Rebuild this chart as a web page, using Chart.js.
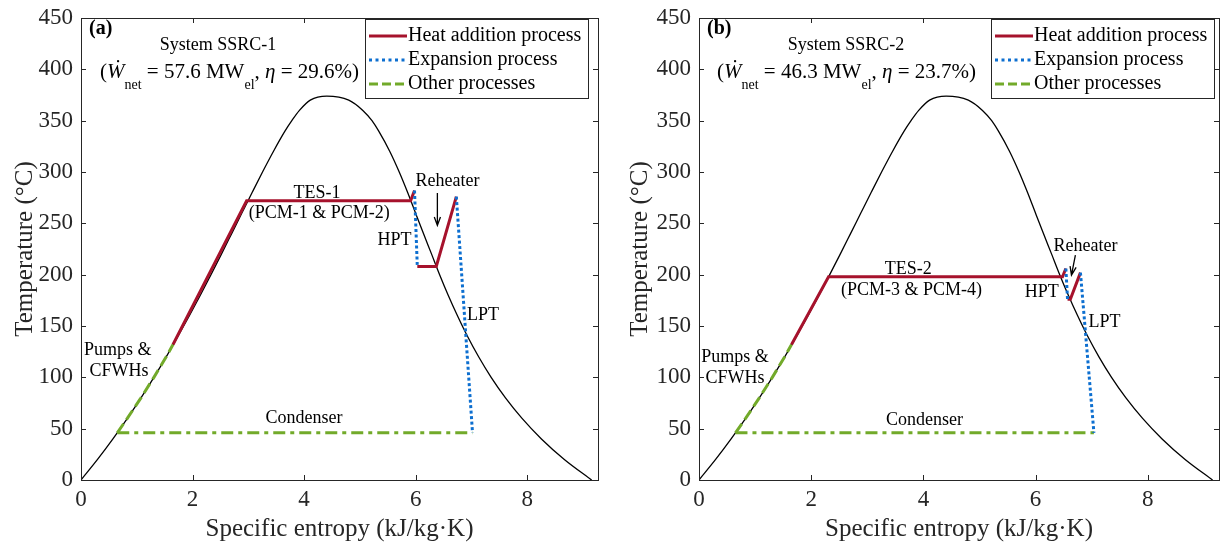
<!DOCTYPE html>
<html>
<head>
<meta charset="utf-8">
<script src="https://cdn.jsdelivr.net/npm/chart.js@4.4.1/dist/chart.umd.min.js"></script>
<style>
  html, body { margin: 0; padding: 0; background: #fff; }
  .panel { position: absolute; top: 0; width: 610px; height: 547px; }
</style>
</head>
<body>
<div class="panel" style="left:0"><canvas id="chartA" width="610" height="547"></canvas></div>
<div class="panel" style="left:610px"><canvas id="chartB" width="610" height="547"></canvas></div>
<script>
// saturation dome of water
const domeS = [0, 0.2965, 0.5724, 0.8313, 1.0756, 1.3072, 1.5279, 1.7392, 1.9427, 2.1392, 2.3305,
    2.5178, 2.7015, 2.8848, 3.0683, 3.2548, 3.4494, 3.6594, 3.7800, 3.9167, 4.1112, 4.4070,
    4.8012, 5.0536, 5.2177, 5.3359, 5.5372, 5.7059, 5.8571, 5.9982, 6.1406, 6.2861, 6.4302,
    6.5840, 6.7502, 6.9293, 7.1296, 7.3542, 7.6111, 7.9082, 8.2556, 8.6661, 9.1556];
const domeT = [0, 20, 40, 60, 80, 100, 120, 140, 160, 180, 200,
    220, 240, 260, 280, 300, 320, 340, 350, 360, 370, 373.95,
    370, 360, 350, 340, 320, 300, 280, 260, 240, 220, 200,
    180, 160, 140, 120, 100, 80, 60, 40, 20, 0];

// tick labels
const sTicks = [0, 2, 4, 6, 8];
const tTicks = [0, 50, 100, 150, 200, 250, 300, 350, 400, 450];

// SSRC-1
const pumpS_A = [0.65, 0.83, 1.075, 1.307, 1.528, 1.65];
const pumpT_A = [46, 60, 80, 100, 120, 132];
const heatS_A = [1.65, 2.97, 5.91, 5.98];
const heatT_A = [132, 272, 272, 282];
const hptS_A = [5.98, 6.03];
const hptT_A = [282, 208];
const reheatS_A = [6.03, 6.37, 6.73];
const reheatT_A = [208, 208, 276];
const lptS_A = [6.73, 7.02];
const lptT_A = [276, 46];
const condS_A = [0.65, 7.02];
const condT_A = [46, 46];

// SSRC-2
const pumpS_B = [0.65, 0.83, 1.075, 1.307, 1.528, 1.65];
const pumpT_B = [46, 60, 80, 100, 120, 132];
const heatS_B = [1.65, 2.31, 6.48, 6.54];
const heatT_B = [132, 198, 198, 206];
const hptS_B = [6.54, 6.57];
const hptT_B = [206, 176];
const reheatS_B = [6.57, 6.62, 6.80];
const reheatT_B = [176, 176, 202];
const lptS_B = [6.80, 7.04];
const lptT_B = [202, 46];
const condS_B = [0.65, 7.04];
const condT_B = [46, 46];

const legendLabels = ["Heat addition process", "Expansion process", "Other processes"];

const RED = "#a6122c";
const BLUE = "#0d6fd0";
const GREEN = "#72aa2a";
const AXIS = "#262626";
const SERIF = "'Liberation Serif', 'Times New Roman', serif";

function pts(xs, ys) {
    return xs.map((x, i) => ({ x: x, y: ys[i] }));
}

function line(xs, ys, color, width, dash, order) {
    return {
        data: pts(xs, ys),
        showLine: true,
        borderColor: color,
        borderWidth: width,
        borderDash: dash,
        borderCapStyle: "butt",
        pointRadius: 0,
        tension: 0,
        order: order
    };
}

// box, inward ticks, legend and text labels
const decor = {
    id: "decor",
    afterDraw(chart, args, opts) {
        const ctx = chart.ctx;
        const xs = chart.scales.x, ys = chart.scales.y;
        const a = chart.chartArea;
        ctx.save();

        ctx.strokeStyle = AXIS;
        ctx.lineWidth = 1;
        ctx.setLineDash([]);
        ctx.strokeRect(a.left + 0.5, a.top + 0.5, a.right - a.left, a.bottom - a.top);
        ctx.beginPath();
        sTicks.forEach(v => {
            const p = Math.round(xs.getPixelForValue(v)) + 0.5;
            ctx.moveTo(p, a.bottom); ctx.lineTo(p, a.bottom - 5);
            ctx.moveTo(p, a.top); ctx.lineTo(p, a.top + 5);
        });
        tTicks.forEach(v => {
            const p = Math.round(ys.getPixelForValue(v)) + 0.5;
            ctx.moveTo(a.left, p); ctx.lineTo(a.left + 5, p);
            ctx.moveTo(a.right, p); ctx.lineTo(a.right - 5, p);
        });
        ctx.stroke();

        ctx.fillStyle = "#000";
        ctx.textBaseline = "middle";

        // panel letter
        ctx.font = "bold 20px " + SERIF;
        ctx.textAlign = "left";
        ctx.fillText(opts.letter, a.left + 8, a.top + 11);

        // system title
        ctx.font = "18px " + SERIF;
        ctx.textAlign = "center";
        ctx.fillText(opts.title, opts.titleX, 45);

        ctx.textAlign = "left";
        let cx = opts.subX;
        const y2 = 72;
        opts.sub.forEach(p => {
            const size = p.s ? 14 : 21;
            ctx.font = (p.i ? "italic " : "") + size + "px " + SERIF;
            ctx.fillText(p.t, cx, y2 + (p.s ? 13 : 0));
            cx += ctx.measureText(p.t).width;
        });

        // annotations
        ctx.font = "18px " + SERIF;
        ctx.textAlign = "center";
        opts.notes.forEach(n => {
            ctx.fillText(n.text, xs.getPixelForValue(n.s), ys.getPixelForValue(n.t));
        });

        // reheater arrow
        const ar = opts.arrow;
        const x1 = xs.getPixelForValue(ar[0]), y1 = ys.getPixelForValue(ar[1]);
        const x2 = xs.getPixelForValue(ar[2]), y2b = ys.getPixelForValue(ar[3]);
        const ang = Math.atan2(y2b - y1, x2 - x1);
        ctx.strokeStyle = "#000";
        ctx.lineWidth = 1.3;
        ctx.beginPath();
        ctx.moveTo(x1, y1); ctx.lineTo(x2, y2b);
        ctx.moveTo(x2 - 9 * Math.cos(ang - 0.35), y2b - 9 * Math.sin(ang - 0.35));
        ctx.lineTo(x2, y2b);
        ctx.lineTo(x2 - 9 * Math.cos(ang + 0.35), y2b - 9 * Math.sin(ang + 0.35));
        ctx.stroke();

        // legend
        const lw = 223, lh = 79;
        const lx = a.right - opts.legendInset - lw, ly = a.top + 1;
        ctx.fillStyle = "#fff";
        ctx.fillRect(lx, ly, lw, lh);
        ctx.strokeStyle = AXIS;
        ctx.lineWidth = 1;
        ctx.setLineDash([]);
        ctx.strokeRect(lx + 0.5, ly + 0.5, lw, lh);
        const styles = [[RED, []], [BLUE, [3, 3.5]], [GREEN, [9, 4]]];
        ctx.font = "20px " + SERIF;
        ctx.fillStyle = "#000";
        ctx.textAlign = "left";
        legendLabels.forEach((lab, i) => {
            const yy = ly + 17 + i * 24;
            ctx.strokeStyle = styles[i][0];
            ctx.lineWidth = 3;
            ctx.setLineDash(styles[i][1]);
            ctx.beginPath();
            ctx.moveTo(lx + 4, yy); ctx.lineTo(lx + 42, yy);
            ctx.stroke();
            ctx.fillText(lab, lx + 43, yy);
        });

        ctx.restore();
    }
};

function renderCycle(id, c) {

    const ctx = document.getElementById(id);

    new Chart(ctx, {
        type: "scatter",
        data: {
            datasets: [
                Object.assign(line(domeS, domeT, "#000", 1.3, [], 10), { cubicInterpolationMode: "monotone" }),
                line(c.pumpS, c.pumpT, GREEN, 3, [11, 5], 2),
                line(c.condS, c.condT, GREEN, 3, [12, 5, 4, 5], 2),
                line(c.heatS, c.heatT, RED, 3, [], 1),
                line(c.reheatS, c.reheatT, RED, 3, [], 1),
                line(c.hptS, c.hptT, BLUE, 3, [3, 2.5], 0),
                line(c.lptS, c.lptT, BLUE, 3, [3, 2.5], 0)
            ]
        },
        options: {
            responsive: false,
            animation: false,
            devicePixelRatio: 1,
            layout: { padding: { top: 18, right: c.padRight, left: 0, bottom: 0 } },
            plugins: {
                legend: { display: false },
                tooltip: { enabled: false },
                decor: c.decor
            },
            scales: {
                x: {
                    type: "linear",
                    min: 0,
                    max: 9.27,
                    afterBuildTicks: s => { s.ticks = sTicks.map(v => ({ value: v })); },
                    ticks: { font: { family: SERIF, size: 23 }, color: AXIS, padding: 6 },
                    grid: { display: false, drawTicks: false },
                    border: { display: false },
                    title: {
                        display: true,
                        text: "Specific entropy (kJ/kg·K)",
                        font: { family: SERIF, size: 25 },
                        color: AXIS,
                        padding: { top: 0, bottom: 3 }
                    },
                    afterFit: s => {
                        s.height = 67;
                        s.paddingLeft = 0;
                        s.paddingRight = 0;
                    }
                },
                y: {
                    type: "linear",
                    min: 0,
                    max: 450,
                    afterBuildTicks: s => { s.ticks = tTicks.map(v => ({ value: v })); },
                    ticks: { font: { family: SERIF, size: 23 }, color: AXIS, padding: 8 },
                    grid: { display: false, drawTicks: false },
                    border: { display: false },
                    title: {
                        display: true,
                        text: "Temperature (°C)",
                        font: { family: SERIF, size: 25 },
                        color: AXIS,
                        padding: { top: c.titlePad, bottom: 0 }
                    },
                    afterFit: s => {
                        s.width = c.yWidth;
                        s.paddingTop = 0;
                        s.paddingBottom = 0;
                    }
                }
            }
        },
        plugins: [decor]
    });
}

renderCycle("chartA", {
    pumpS: pumpS_A, pumpT: pumpT_A, heatS: heatS_A, heatT: heatT_A,
    hptS: hptS_A, hptT: hptT_A, reheatS: reheatS_A, reheatT: reheatT_A,
    lptS: lptS_A, lptT: lptT_A, condS: condS_A, condT: condT_A,
    padRight: 12, yWidth: 81, titlePad: 10,
    decor: {
        letter: "(a)",
        title: "System SSRC-1",
        titleX: 218,
        subX: 100,
        sub: [{ t: "(" }, { t: "Ẇ", i: true }, { t: "net", s: true }, { t: " = 57.6 MW" }, { t: "el", s: true },
              { t: ", " }, { t: "η", i: true }, { t: " = 29.6%)" }],
        legendInset: 10,
        arrow: [6.39, 279.5, 6.39, 248],
        notes: [
            { text: "TES-1", s: 4.23, t: 279.5 },
            { text: "(PCM-1 & PCM-2)", s: 4.27, t: 260 },
            { text: "Reheater", s: 6.57, t: 291 },
            { text: "HPT", s: 5.62, t: 233.7 },
            { text: "LPT", s: 7.21, t: 160.7 },
            { text: "Pumps &", s: 0.66, t: 126.6 },
            { text: "CFWHs", s: 0.68, t: 106 },
            { text: "Condenser", s: 4.0, t: 60.4 }
        ]
    }
});

renderCycle("chartB", {
    pumpS: pumpS_B, pumpT: pumpT_B, heatS: heatS_B, heatT: heatT_B,
    hptS: hptS_B, hptT: hptT_B, reheatS: reheatS_B, reheatT: reheatT_B,
    lptS: lptS_B, lptT: lptT_B, condS: condS_B, condT: condT_B,
    padRight: 1, yWidth: 89, titlePad: 15,
    decor: {
        letter: "(b)",
        title: "System SSRC-2",
        titleX: 846 - 610,
        subX: 717 - 610,
        sub: [{ t: "(" }, { t: "Ẇ", i: true }, { t: "net", s: true }, { t: " = 46.3 MW" }, { t: "el", s: true },
              { t: ", " }, { t: "η", i: true }, { t: " = 23.7%)" }],
        legendInset: 5,
        arrow: [6.71, 219, 6.64, 199.6],
        notes: [
            { text: "TES-2", s: 3.73, t: 205.5 },
            { text: "(PCM-3 & PCM-4)", s: 3.79, t: 185 },
            { text: "Reheater", s: 6.89, t: 228 },
            { text: "HPT", s: 6.11, t: 183 },
            { text: "LPT", s: 7.23, t: 154 },
            { text: "Pumps &", s: 0.64, t: 120 },
            { text: "CFWHs", s: 0.64, t: 99 },
            { text: "Condenser", s: 4.02, t: 58.4 }
        ]
    }
});
</script>
</body>
</html>
